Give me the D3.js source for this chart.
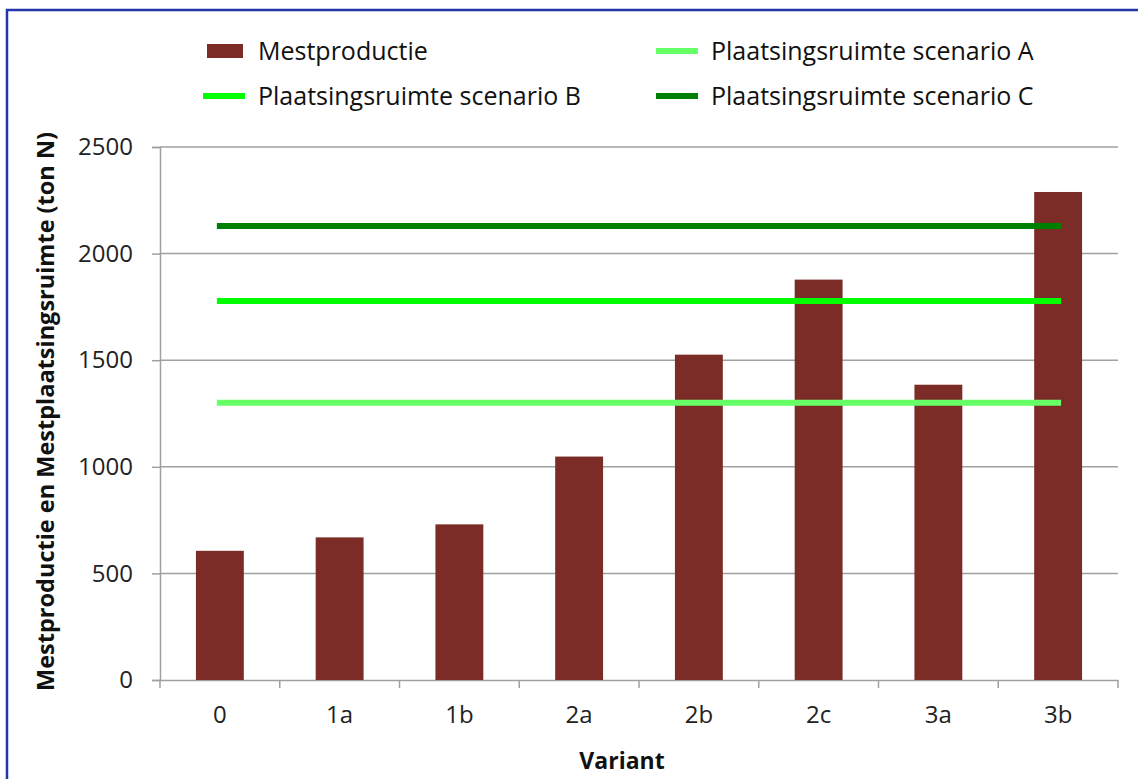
<!DOCTYPE html>
<html>
<head>
<meta charset="utf-8">
<script src="https://cdn.jsdelivr.net/npm/d3@7"></script>
<style>
  html, body { margin: 0; padding: 0; background: #fff; }
  svg { display: block; font-family: "Open Sans", sans-serif; }
</style>
</head>
<body>
<svg id="chart" width="1138" height="779"></svg>
<script>
// ---- data ----
const categories = ["0", "1a", "1b", "2a", "2b", "2c", "3a", "3b"];
const mestproductie = [606, 669, 730, 1048, 1526, 1878, 1385, 2289];
const scenarioA = [1300, 1300, 1300, 1300, 1300, 1300, 1300, 1300];
const scenarioB = [1778, 1778, 1778, 1778, 1778, 1778, 1778, 1778];
const scenarioC = [2130, 2130, 2130, 2130, 2130, 2130, 2130, 2130];
const yTicks = [0, 500, 1000, 1500, 2000, 2500];
const legendLabels = ["Mestproductie", "Plaatsingsruimte scenario A", "Plaatsingsruimte scenario B", "Plaatsingsruimte scenario C"];

const colors = { bar: "#7B2C27", A: "#66FF66", B: "#00FF00", C: "#008000" };

const svg = d3.select("#chart");
const W = 1138, H = 779;
const plot = { left: 160, right: 1118, top: 147, bottom: 680 };

// frame
svg.append("rect").attr("x", 0).attr("y", 0).attr("width", W).attr("height", H).attr("fill", "#fff");
svg.append("rect").attr("x", 7).attr("y", 10).attr("width", W + 10).attr("height", H + 10)
  .attr("fill", "none").attr("stroke", "#2236a8").attr("stroke-width", 2.5);

const x = d3.scaleBand().domain(categories).range([plot.left, plot.right]).paddingInner(0.6).paddingOuter(0.3);
const xb = d3.scaleBand().domain(categories).range([plot.left, plot.right]);
const y = d3.scaleLinear().domain([0, 2500]).range([plot.bottom, plot.top]);

// gridlines
svg.append("g").selectAll("line").data(yTicks.filter(d => d > 0)).join("line")
  .attr("x1", plot.left).attr("x2", plot.right)
  .attr("y1", d => y(d)).attr("y2", d => y(d))
  .attr("stroke", "#a0a0a0").attr("stroke-width", 1.5);

// y axis
const yAxis = svg.append("g").attr("transform", `translate(${plot.left},0)`)
  .call(d3.axisLeft(y).tickValues(yTicks).tickFormat(d3.format("d")).tickSize(8).tickPadding(19));
yAxis.select(".domain").attr("stroke", "#a0a0a0").attr("stroke-width", 1.5);
yAxis.selectAll(".tick line").attr("stroke", "#a0a0a0").attr("stroke-width", 1.5);
yAxis.selectAll(".tick text").attr("font-size", 24).attr("fill", "#222").attr("font-family", "Open Sans");

// x axis
const xAxisG = svg.append("g").attr("transform", `translate(0,${plot.bottom})`)
  .call(d3.axisBottom(xb).tickSize(0).tickPadding(26));
xAxisG.select(".domain").attr("stroke", "#a0a0a0").attr("stroke-width", 1.5);
xAxisG.selectAll(".tick text").attr("font-size", 24).attr("fill", "#222").attr("font-family", "Open Sans");
// boundary ticks
const bounds = categories.map(c => xb(c)).concat([plot.right]);
xAxisG.append("g").selectAll("line").data(bounds).join("line")
  .attr("x1", d => d).attr("x2", d => d).attr("y1", 0).attr("y2", 8)
  .attr("stroke", "#a0a0a0").attr("stroke-width", 1.5);

// bars
svg.append("g").selectAll("rect").data(categories).join("rect")
  .attr("x", (d) => x(d)).attr("width", x.bandwidth())
  .attr("y", (d, i) => y(mestproductie[i]))
  .attr("height", (d, i) => y(0) - y(mestproductie[i]))
  .attr("fill", colors.bar);

// lines
const lineGen = d3.line().x((d, i) => xb(categories[i]) + xb.bandwidth() / 2).y(d => y(d));
[[scenarioA, colors.A], [scenarioB, colors.B], [scenarioC, colors.C]].forEach(([s, c]) => {
  svg.append("path").datum(s).attr("d", lineGen)
    .attr("fill", "none").attr("stroke", c).attr("stroke-width", 6).attr("stroke-linecap", "square");
});

// axis titles
svg.append("text").attr("transform", `translate(54,${(plot.top + plot.bottom) / 2 - 2}) rotate(-90)`)
  .attr("text-anchor", "middle").attr("font-weight", "bold").attr("font-size", 23.5).attr("fill", "#111")
  .text("Mestproductie en Mestplaatsingsruimte (ton N)");
svg.append("text").attr("x", 622).attr("y", 769).attr("text-anchor", "middle")
  .attr("font-weight", "bold").attr("font-size", 23).attr("fill", "#111").text("Variant");

// legend
const leg = svg.append("g");
const legItems = [
  { label: legendLabels[0], type: "rect", color: colors.bar, x: 207, y: 51 },
  { label: legendLabels[1], type: "line", color: colors.A, x: 656, y: 51 },
  { label: legendLabels[2], type: "line", color: colors.B, x: 203, y: 96 },
  { label: legendLabels[3], type: "line", color: colors.C, x: 656, y: 96 }
];
legItems.forEach(it => {
  if (it.type === "rect") {
    leg.append("rect").attr("x", it.x).attr("y", it.y - 7).attr("width", 36).attr("height", 14).attr("fill", it.color);
  } else {
    leg.append("line").attr("x1", it.x).attr("x2", it.x + 42).attr("y1", it.y).attr("y2", it.y)
      .attr("stroke", it.color).attr("stroke-width", 6);
  }
  const tx = it.type === "rect" ? it.x + 51 : it.x + 55;
  leg.append("text").attr("x", tx).attr("y", it.y).attr("dy", "0.35em")
    .attr("font-size", 25).attr("fill", "#111").text(it.label);
});
</script>
</body>
</html>
